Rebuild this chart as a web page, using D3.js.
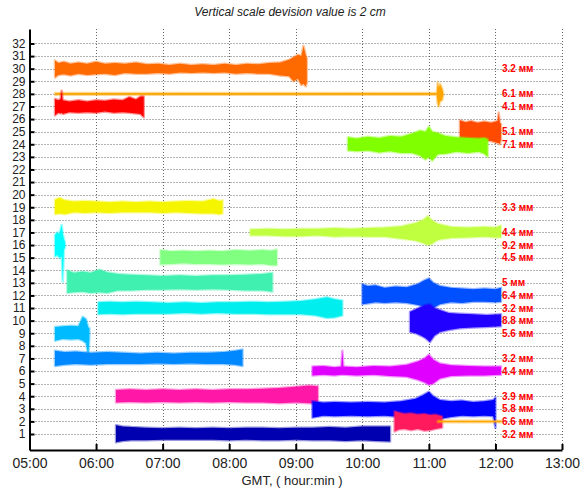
<!DOCTYPE html>
<html>
<head>
<meta charset="utf-8">
<script src="https://cdn.jsdelivr.net/npm/d3@7"></script>
<style>
  body { margin: 0; background: #fff; }
  svg { display: block; font-family: "Liberation Sans", Arial, sans-serif; }
  .grid line { stroke: #666; stroke-dasharray: 1,2; }
  .axis path, .axis line { stroke: #000; stroke-width: 2; }
  .axis text { fill: #222; }
</style>
</head>
<body>
<div id="chart"></div>
<script>
// y levels 1..32 and hour ticks
const levels = d3.range(1, 33);
const hourTicks = ["05:00", "06:00", "07:00", "08:00", "09:00", "10:00", "11:00", "12:00", "13:00"];

// amplitude labels at the right edge
const labelLevels = [30, 28, 27, 25, 24, 19, 17, 16, 15, 13, 12, 11, 10, 9, 7, 6, 4, 3, 2, 1];
const labelTexts = ["3.2 мм", "6.1 мм", "4.1 мм", "5.1 мм", "7.1 мм", "3.3 мм", "4.4 мм", "9.2 мм", "4.5 мм", "5 мм",
  "6.4 мм", "3.2 мм", "8.8 мм", "5.6 мм", "3.2 мм", "4.4 мм", "3.9 мм", "5.8 мм", "6.6 мм", "3.2 мм"];

// traces: level, colour, envelope [time, upper dev, lower dev]
const traceLevels = [30, 28, 27, 25, 24, 19, 17, 16, 15, 13, 12, 11, 10, 9, 7, 6, 4, 3, 2, 2, 1];
const traceColors = ["#ff6a00", "#ffa500", "#ff0000", "#ff4a00", "#80ff00", "#f5f500", "#c0ff40", "#00ffff", "#80ff80",
  "#40f0b0", "#0050ff", "#00eeee", "#2200ff", "#00bbff", "#0088ff", "#e000ff", "#ff18a8", "#0000ff", "#ff1a5e", "#ffa500", "#0000b0"];
const traceEnvelopes = [
  // 30
  [["05:23", .65, -.7], ["05:26", .45, -.5], ["05:31", .55, -.45], ["05:37", .4, -.55], ["05:44", .5, -.4], ["05:52", .4, -.5],
   ["06:00", .55, -.45], ["06:08", .4, -.4], ["06:17", .45, -.5], ["06:26", .4, -.35], ["06:36", .5, -.4], ["06:46", .35, -.4],
   ["06:56", .4, -.35], ["07:06", .3, -.4], ["07:16", .4, -.3], ["07:26", .3, -.35], ["07:36", .35, -.3], ["07:46", .3, -.35],
   ["07:56", .4, -.3], ["08:06", .3, -.4], ["08:16", .4, -.35], ["08:26", .35, -.4], ["08:36", .45, -.4], ["08:46", .5, -.55],
   ["08:54", .7, -.6], ["08:58", .9, -1.0], ["09:02", 1.1, -.8], ["09:05", 1.0, -1.3], ["09:07", 1.8, -1.2], ["09:09", 1.1, -1.4], ["09:10", .8, -1.1]],
  // 28 line
  [["05:23", .06, -.06], ["11:07", .06, -.06], ["11:08", .9, -.8], ["11:09", .5, -1.0], ["11:10", .8, -.6], ["11:12", .4, -.5], ["11:13", .06, -.06]],
  // 27
  [["05:23", .6, -.7], ["05:26", .5, -.5], ["05:28", .6, -.55], ["05:29", 1.25, -.5], ["05:30", .5, -.6], ["05:36", .4, -.45],
   ["05:44", .5, -.5], ["05:52", .4, -.45], ["06:00", .5, -.5], ["06:08", .45, -.4], ["06:16", .55, -.5], ["06:24", .5, -.45],
   ["06:30", .75, -.5], ["06:36", .55, -.55], ["06:40", .8, -.6], ["06:43", .8, -.85]],
  // 25
  [["11:28", .9, -.7], ["11:33", .75, -.8], ["11:38", .85, -.65], ["11:44", .7, -.8], ["11:50", .8, -.7], ["11:56", .7, -.75],
   ["12:02", .85, -.9], ["12:03", 1.5, -.9], ["12:04", .7, -1.0], ["12:05", .6, -.6]],
  // 24
  [["09:47", .55, -.5], ["09:55", .45, -.55], ["10:05", .6, -.5], ["10:15", .5, -.65], ["10:25", .65, -.55], ["10:35", .6, -.7],
   ["10:45", .85, -.7], ["10:52", 1.1, -.9], ["10:57", 1.0, -1.2], ["11:00", 1.4, -1.0], ["11:03", 1.0, -1.3], ["11:08", .9, -.8],
   ["11:15", .65, -.75], ["11:25", .55, -.6], ["11:35", .5, -.7], ["11:45", .45, -.6], ["11:50", .5, -.75], ["11:53", .4, -1.0]],
  // 19
  [["05:23", .6, -.55], ["05:27", .75, -.5], ["05:32", .55, -.55], ["05:40", .45, -.4], ["05:50", .5, -.45], ["06:00", .45, -.4],
   ["06:12", .4, -.45], ["06:24", .45, -.4], ["06:36", .4, -.4], ["06:48", .45, -.4], ["07:00", .4, -.45], ["07:12", .45, -.4],
   ["07:24", .5, -.45], ["07:36", .45, -.5], ["07:46", .65, -.5], ["07:51", .5, -.55], ["07:54", .55, -.5]],
  // 17
  [["08:19", .25, -.25], ["08:35", .3, -.25], ["08:50", .25, -.3], ["09:05", .3, -.3], ["09:20", .3, -.25], ["09:35", .35, -.35],
   ["09:50", .3, -.3], ["10:05", .35, -.35], ["10:20", .4, -.35], ["10:35", .5, -.5], ["10:48", .75, -.65], ["10:55", 1.0, -.85],
   ["10:59", 1.3, -1.0], ["11:03", .95, -.9], ["11:08", .7, -.6], ["11:20", .45, -.45], ["11:35", .4, -.4], ["11:50", .45, -.35],
   ["12:00", .4, -.4], ["12:05", .55, -.4]],
  // 16
  [["05:23", .8, -.9], ["05:25", 1.0, -.8], ["05:27", .9, -1.0], ["05:29", 1.6, -.9], ["05:30", .9, -2.9], ["05:31", .5, -.4], ["05:32", .2, -.2]],
  // 15
  [["06:58", .6, -.55], ["07:08", .5, -.5], ["07:18", .55, -.45], ["07:30", .5, -.5], ["07:42", .55, -.5], ["07:54", .5, -.55],
   ["08:06", .6, -.5], ["08:18", .55, -.55], ["08:30", .6, -.5], ["08:38", .55, -.6], ["08:43", .65, -.6]],
  // 13
  [["05:34", 1.0, -.8], ["05:40", .8, -.75], ["05:48", .9, -.7], ["05:55", .8, -.8], ["06:03", 1.05, -.75], ["06:10", .85, -.8],
   ["06:20", .7, -.6], ["06:32", .65, -.6], ["06:45", .6, -.55], ["07:00", .55, -.55], ["07:15", .6, -.5], ["07:30", .55, -.55],
   ["07:45", .6, -.5], ["08:00", .6, -.55], ["08:15", .65, -.6], ["08:30", .7, -.6], ["08:39", .8, -.7]],
  // 12
  [["10:00", .9, -.7], ["10:05", .75, -.65], ["10:12", .8, -.55], ["10:20", .6, -.6], ["10:30", .7, -.55], ["10:40", .65, -.6],
   ["10:50", .9, -.75], ["10:56", 1.2, -.9], ["11:00", 1.35, -1.0], ["11:04", 1.0, -1.0], ["11:10", .75, -.7], ["11:20", .6, -.55],
   ["11:30", .55, -.6], ["11:40", .5, -.5], ["11:50", .55, -.5], ["12:00", .5, -.55], ["12:05", .6, -.5]],
  // 11
  [["06:02", .45, -.5], ["06:12", .5, -.45], ["06:24", .45, -.5], ["06:36", .5, -.45], ["06:50", .45, -.45], ["07:05", .4, -.45],
   ["07:20", .45, -.4], ["07:35", .4, -.45], ["07:50", .45, -.4], ["08:05", .45, -.45], ["08:20", .5, -.45], ["08:35", .45, -.5],
   ["08:50", .5, -.5], ["09:05", .55, -.5], ["09:18", .7, -.6], ["09:28", .85, -.8], ["09:35", .7, -.75], ["09:42", .6, -.6]],
  // 10
  [["10:43", .7, -.9], ["10:48", .9, -1.0], ["10:53", 1.1, -1.2], ["10:57", 1.25, -1.4], ["11:01", 1.3, -1.7], ["11:05", 1.0, -1.2],
   ["11:10", .85, -.9], ["11:18", .6, -.75], ["11:28", .55, -.6], ["11:40", .5, -.55], ["11:52", .45, -.5], ["12:05", .5, -.45]],
  // 9
  [["05:23", .5, -.6], ["05:30", .55, -.45], ["05:38", .6, -.5], ["05:44", .55, -.45], ["05:48", 1.3, -.6], ["05:51", 1.1, -.8],
   ["05:53", .45, -1.8], ["05:54", .4, -.4]],
  // 7
  [["05:23", .6, -.6], ["05:32", .5, -.5], ["05:42", .55, -.45], ["05:55", .45, -.5], ["06:10", .5, -.45], ["06:25", .45, -.45],
   ["06:40", .4, -.45], ["06:55", .45, -.4], ["07:10", .4, -.45], ["07:25", .45, -.4], ["07:40", .45, -.45], ["07:55", .5, -.45],
   ["08:05", .6, -.5], ["08:12", .7, -.6]],
  // 6
  [["09:15", .35, -.35], ["09:25", .4, -.3], ["09:35", .3, -.35], ["09:41", .35, -.3], ["09:42", 1.6, -.3], ["09:43", .35, -.3],
   ["09:55", .3, -.35], ["10:10", .4, -.3], ["10:25", .35, -.4], ["10:40", .5, -.45], ["10:50", .75, -.7], ["10:56", 1.0, -.9],
   ["11:00", 1.3, -1.1], ["11:04", .9, -1.0], ["11:10", .6, -.6], ["11:20", .45, -.4], ["11:35", .4, -.35], ["11:50", .35, -.35],
   ["12:05", .35, -.3]],
  // 4
  [["06:18", .5, -.5], ["06:30", .55, -.45], ["06:45", .5, -.5], ["07:00", .55, -.45], ["07:15", .5, -.5], ["07:30", .55, -.45],
   ["07:45", .5, -.5], ["08:00", .55, -.45], ["08:15", .55, -.5], ["08:30", .6, -.5], ["08:45", .65, -.55], ["09:00", .75, -.5],
   ["09:12", .85, -.55], ["09:20", .8, -.6]],
  // 3
  [["09:15", .6, -.7], ["09:25", .5, -.55], ["09:35", .55, -.6], ["09:50", .5, -.55], ["10:05", .55, -.6], ["10:20", .5, -.55],
   ["10:35", .6, -.65], ["10:48", .8, -.75], ["10:55", 1.1, -.9], ["11:00", 1.35, -1.1], ["11:04", 1.0, -1.2], ["11:10", .7, -.8],
   ["11:20", .6, -.65], ["11:30", .65, -.55], ["11:40", .55, -.6], ["11:50", .6, -.55], ["11:58", .7, -.6], ["12:00", .9, -1.5]],
  // 2 crimson
  [["10:29", .8, -.8], ["10:33", .7, -.65], ["10:38", .6, -.6], ["10:44", .65, -.7], ["10:50", .55, -.6], ["10:56", .6, -.75],
   ["11:01", .5, -.7], ["11:06", .55, -.6], ["11:12", .4, -.5]],
  // 2 orange line
  [["11:08", .06, -.06], ["12:05", .06, -.06]],
  // 1
  [["06:18", .7, -.65], ["06:24", .6, -.55], ["06:32", .55, -.5], ["06:45", .5, -.5], ["07:00", .45, -.45], ["07:15", .5, -.45],
   ["07:30", .45, -.45], ["07:45", .5, -.45], ["08:00", .45, -.5], ["08:15", .5, -.45], ["08:30", .5, -.5], ["08:45", .45, -.5],
   ["09:00", .5, -.45], ["09:15", .5, -.5], ["09:30", .55, -.5], ["09:45", .5, -.55], ["10:00", .6, -.5], ["10:12", .6, -.55],
   ["10:25", .6, -.6]],
];

const width = 582;
const height = 491;
const parseTime = d3.timeParse("%H:%M");

const svg = d3.select("#chart").append("svg")
  .attr("width", width)
  .attr("height", height);

const xScale = d3.scaleTime()
  .domain([parseTime("05:00"), parseTime("13:00")])
  .range([29.5, 562]);

const yScale = d3.scaleLinear()
  .domain([-0.27, 33.15])
  .range([450, 29]);

// title
svg.append("text")
  .attr("x", 290)
  .attr("y", 16)
  .attr("text-anchor", "middle")
  .style("font-style", "italic")
  .style("font-size", "12px")
  .attr("fill", "#222")
  .text("Vertical scale devision value is 2 cm");

// gridlines
const grid = svg.append("g").attr("class", "grid");
grid.selectAll("line.h")
  .data(levels)
  .join("line")
  .attr("class", "h")
  .attr("x1", xScale.range()[0])
  .attr("x2", xScale.range()[1])
  .attr("y1", (d) => Math.round(yScale(d)) + 0.5)
  .attr("y2", (d) => Math.round(yScale(d)) + 0.5);
grid.selectAll("line.v")
  .data(hourTicks.slice(1))
  .join("line")
  .attr("class", "v")
  .attr("x1", (d) => Math.round(xScale(parseTime(d))) + 0.5)
  .attr("x2", (d) => Math.round(xScale(parseTime(d))) + 0.5)
  .attr("y1", yScale.range()[1])
  .attr("y2", yScale.range()[0]);

// traces
const area = d3.area()
  .x((d) => xScale(parseTime(d[0])))
  .y0((d) => yScale(d.level + d[2]))
  .y1((d) => yScale(d.level + d[1]));

const traces = svg.append("g").attr("class", "traces");
traceEnvelopes.forEach((env, i) => {
  const pts = env.map((p) => Object.assign([...p], { level: traceLevels[i] }));
  traces.append("path")
    .attr("d", area(pts))
    .attr("fill", traceColors[i])
    .attr("stroke", traceColors[i])
    .attr("stroke-opacity", 0.4)
    .attr("stroke-width", 2.5)
    .attr("stroke-linejoin", "round");
});

// amplitude labels
svg.append("g")
  .selectAll("text")
  .data(labelLevels)
  .join("text")
  .attr("x", 502)
  .attr("y", (d) => yScale(d))
  .attr("dy", "0.36em")
  .attr("fill", "#ff0000")
  .style("font-size", "10px")
  .style("font-weight", "bold")
  .text((d, i) => labelTexts[i]);

// axes
const xAxis = d3.axisBottom(xScale)
  .tickValues(hourTicks.map(parseTime))
  .tickFormat(d3.timeFormat("%H:%M"))
  .tickSizeInner(-6)
  .tickSizeOuter(0)
  .tickPadding(8);

const yAxis = d3.axisLeft(yScale)
  .tickValues(levels)
  .tickSizeInner(-5)
  .tickSizeOuter(0)
  .tickPadding(4);

svg.append("g")
  .attr("class", "axis")
  .attr("transform", `translate(0, ${yScale.range()[0]})`)
  .call(xAxis)
  .call((g) => g.selectAll("text").style("font-size", "14px"));

svg.append("g")
  .attr("class", "axis")
  .attr("transform", `translate(${xScale.range()[0]}, 0)`)
  .call(yAxis)
  .call((g) => g.selectAll("text").style("font-size", "12px"));

// x axis title
svg.append("text")
  .attr("x", 292)
  .attr("y", 485)
  .attr("text-anchor", "middle")
  .style("font-size", "13px")
  .attr("fill", "#222")
  .text("GMT, ( hour:min )");
</script>
</body>
</html>
